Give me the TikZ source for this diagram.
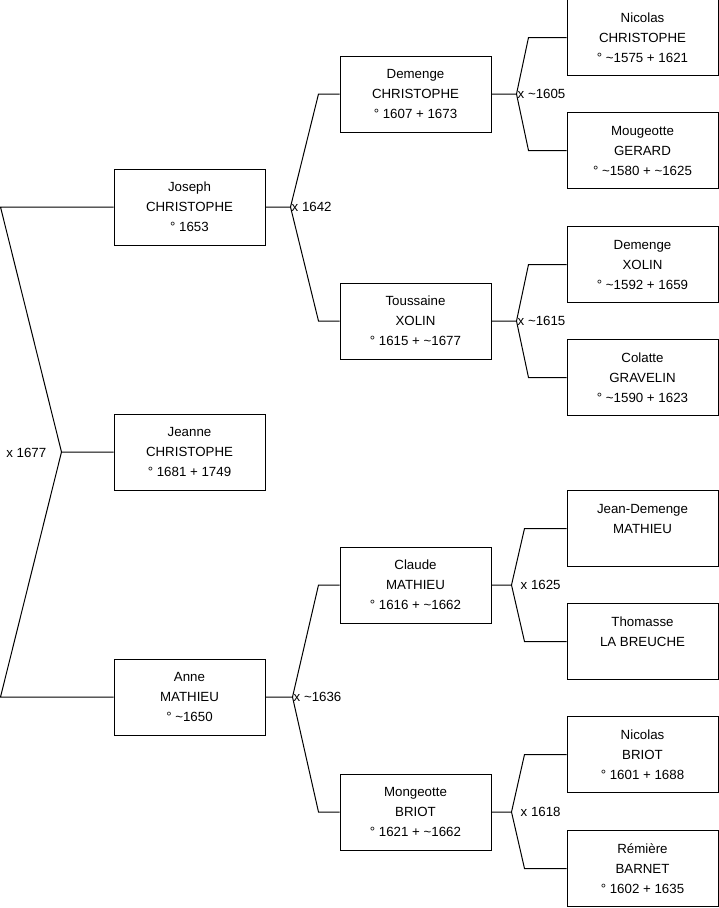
\documentclass[tikz,border=0pt]{standalone}
\usepackage{fontspec}
\setmainfont{Liberation Sans}

\begin{document}
\begin{tikzpicture}[x=1pt,y=-1pt,
  person/.style={draw, line width=1pt, minimum width=151pt, minimum height=76pt,
    align=center, font=\fontsize{13.3}{20}\selectfont},
  link/.style={line width=1pt},
  wed/.style={anchor=west, inner sep=1pt, font=\fontsize{13.3}{16}\selectfont}]
\useasboundingbox (0,0) rectangle (719,908);
% child and parents
\node[person] (joseph) at (189.5,207) {Joseph\\CHRISTOPHE\\° 1653};
\node[person] (jeanne) at (189.5,452) {Jeanne\\CHRISTOPHE\\° 1681 + 1749};
\node[person] (anne) at (189.5,697) {Anne\\MATHIEU\\° \textasciitilde1650};
% grandparents
\node[person] (demenge) at (415.5,94) {Demenge\\CHRISTOPHE\\° 1607 + 1673};
\node[person] (toussaine) at (415.5,321) {Toussaine\\XOLIN\\° 1615 + \textasciitilde1677};
\node[person] (claude) at (415.5,585) {Claude\\MATHIEU\\° 1616 + \textasciitilde1662};
\node[person] (mongeotte) at (415.5,812) {Mongeotte\\BRIOT\\° 1621 + \textasciitilde1662};
% great-grandparents
\node[person] (nicolas) at (642.5,37.5) {Nicolas\\CHRISTOPHE\\° \textasciitilde1575 + 1621};
\node[person] (mougeotte) at (642.5,150.5) {Mougeotte\\GERARD\\° \textasciitilde1580 + \textasciitilde1625};
\node[person] (demengex) at (642.5,264.5) {Demenge\\XOLIN\\° \textasciitilde1592 + 1659};
\node[person] (colatte) at (642.5,377.5) {Colatte\\GRAVELIN\\° \textasciitilde1590 + 1623};
\node[person] (jeandemenge) at (642.5,528.5) {Jean-Demenge\\MATHIEU\\\mbox{}};
\node[person] (thomasse) at (642.5,641.5) {Thomasse\\LA BREUCHE\\\mbox{}};
\node[person] (nicolasb) at (642.5,754.5) {Nicolas\\BRIOT\\° 1601 + 1688};
\node[person] (remiere) at (642.5,868.5) {Rémière\\BARNET\\° 1602 + 1635};

% marriage of the parents
\coordinate (w-jeanne) at ([xshift=-52pt]jeanne.west);
\draw[link] (joseph.west) -- ([xshift=-113pt]joseph.west) -- (w-jeanne) -- (jeanne.west);
\draw[link] (w-jeanne) -- ([xshift=-113pt]anne.west) -- (anne.west);
\node[wed, anchor=east] at ([xshift=-14pt,yshift=-1pt]w-jeanne) {x 1677};

% marriages of the older generations
\foreach \kid/\up/\down/\j/\b/\l/\txt in {
  joseph/demenge/toussaine/25/21/0/{x 1642},
  anne/claude/mongeotte/27/21/0/{x \textasciitilde1636},
  demenge/nicolas/mougeotte/25/38/0/{x \textasciitilde1605},
  toussaine/demengex/colatte/25/38/0/{x \textasciitilde1615},
  claude/jeandemenge/thomasse/20/42/8/{x 1625},
  mongeotte/nicolasb/remiere/20/42/8/{x 1618}}
{
  \coordinate (w-\kid) at ([xshift=\j pt]\kid.east);
  \draw[link] (\kid.east) -- (w-\kid) -- ([xshift=-\b pt]\up.west) -- (\up.west);
  \draw[link] (w-\kid) -- ([xshift=-\b pt]\down.west) -- (\down.west);
  \node[wed] at ([xshift=\l pt]w-\kid) {\txt};
}
\end{tikzpicture}
\end{document}
